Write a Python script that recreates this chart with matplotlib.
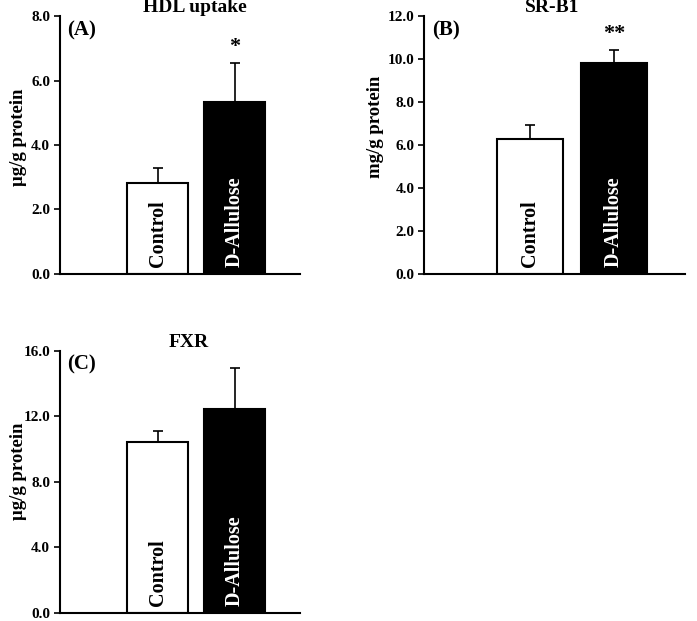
import matplotlib.pyplot as plt

plt.rcParams['font.family'] = ['Liberation Serif', 'DejaVu Serif']
plt.rcParams['font.weight'] = 'bold'

groups = ["Control", "D-Allulose"]
bar_colors = ["white", "black"]
text_colors = ["black", "white"]

hdl_mean = [2.82, 5.33]
hdl_err = [0.47, 1.21]
srb1_mean = [6.26, 9.80]
srb1_err = [0.65, 0.61]
fxr_mean = [10.45, 12.44]
fxr_err = [0.65, 2.54]

panels = [
    # (rect, title, title_x, tag, ylabel, label_y, means, errs, ymax, yticks, stars)
    ([0.086, 0.559, 0.345, 0.415], "HDL uptake", 0.5625, "(A)", "\u03bcg/g protein", 0.53,
     hdl_mean, hdl_err, 8.0, [0, 2, 4, 6, 8], "*"),
    ([0.609, 0.559, 0.374, 0.415], "SR-B1", 0.49, "(B)", "mg/g protein", 0.57,
     srb1_mean, srb1_err, 12.0, [0, 2, 4, 6, 8, 10, 12], "**"),
    ([0.086, 0.013, 0.345, 0.422], "FXR", 0.535, "(C)", "\u03bcg/g protein", 0.54,
     fxr_mean, fxr_err, 16.0, [0, 4, 8, 12, 16], ""),
]

fig = plt.figure(figsize=(6.97, 6.21), dpi=100)

for rect, title, title_x, tag, ylabel, label_y, means, errs, ymax, yticks, stars in panels:
    ax = fig.add_axes(rect)
    x = [1, 2]
    ax.bar(x, means, width=0.79, color=bar_colors, edgecolor="black", linewidth=1.5, zorder=2)
    ax.errorbar(x, means, yerr=[[0, 0], errs], fmt="none", ecolor="black",
                elinewidth=1.2, capsize=3.5, capthick=1.2, zorder=1)
    for xi, name, tc in zip(x, groups, text_colors):
        ax.text(xi, ymax * 0.027, name, rotation=90, ha="center", va="bottom",
                color=tc, fontsize=14.5, fontweight="bold", zorder=3)
    if stars:
        i = 1
        ax.text(x[i], means[i] + errs[i] + ymax * 0.025, stars, ha="center", va="bottom",
                fontsize=16, fontweight="bold")
    ax.set_xlim(-0.266, 2.85)
    ax.set_ylim(0, ymax)
    ax.set_yticks(yticks)
    ax.set_yticklabels([f"{v:.1f}" for v in yticks], fontsize=11, fontweight="bold")
    ax.set_xticks([])
    ax.spines["top"].set_visible(False)
    ax.spines["right"].set_visible(False)
    ax.spines["left"].set_linewidth(1.5)
    ax.spines["bottom"].set_linewidth(1.5)
    ax.tick_params(axis="y", direction="out", length=4, width=1.2, pad=3)
    ax.set_ylabel(ylabel, fontsize=13.5, fontweight="bold")
    w_px = rect[2] * 697
    ax.yaxis.set_label_coords(-33 / w_px if title != "SR-B1" else -40 / w_px, label_y)
    ax.set_title(title, fontsize=14, fontweight="bold", x=title_x, pad=1)
    ax.text(0.03, 0.985, tag, transform=ax.transAxes, ha="left", va="top",
            fontsize=15, fontweight="bold")

fig.savefig("out.png", dpi=100)
